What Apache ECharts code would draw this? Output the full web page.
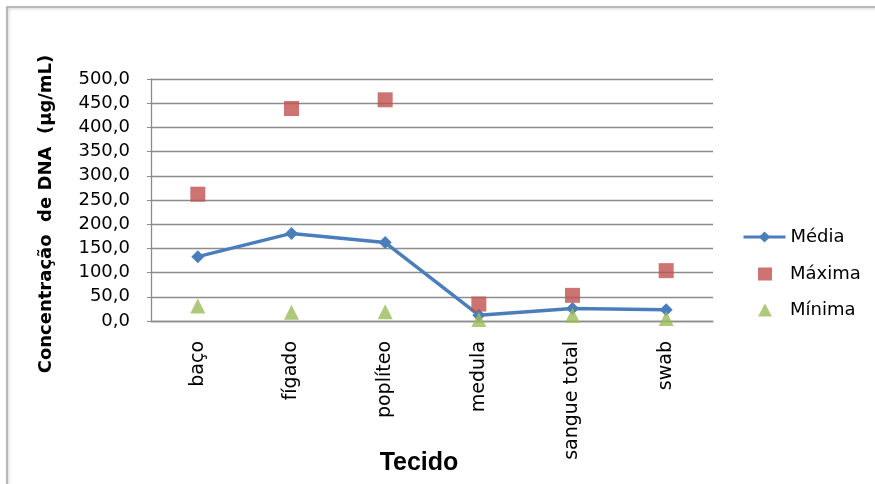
<!DOCTYPE html>
<html>
<head>
<meta charset="utf-8">
<title>Concentração de DNA por tecido</title>
<script src="https://cdn.jsdelivr.net/npm/echarts@6/dist/echarts.min.js"></script>
<style>
  html, body { margin: 0; padding: 0; background: #ffffff; }
  #chart { width: 875px; height: 484px; }
</style>
</head>
<body>
<div id="chart"></div>
<script>
// Tissue categories and DNA concentration (µg/mL)
const tecidos = ['baço', 'fígado', 'poplíteo', 'medula', 'sangue total', 'swab'];
const media   = [133, 181, 162, 12, 26, 23];
const maxima  = [262, 439, 457, 35, 53, 104];
const minima  = [31, 18, 19, 3, 12, 5];
const yTickLabels = ['0,0', '50,0', '100,0', '150,0', '200,0', '250,0',
                     '300,0', '350,0', '400,0', '450,0', '500,0'];

const chart = echarts.init(document.getElementById('chart'));
const gridColor = '#8c8c8c';
const textFont = 'DejaVu Sans';
const legendText = { fontFamily: textFont, fontSize: 18, color: '#000000', lineHeight: 14 };

chart.setOption({
  animation: false,
  backgroundColor: '#ffffff',
  graphic: [
    // outer chart-area frame
    {
      type: 'rect', z: -10,
      shape: { x: 7, y: 7, width: 900, height: 500 },
      style: { fill: 'none', stroke: '#a8a8a8', lineWidth: 1.5,
               shadowBlur: 3, shadowColor: 'rgba(0,0,0,0.25)', shadowOffsetX: 1, shadowOffsetY: 1 }
    },
    // y-axis title
    {
      type: 'text', x: 46, y: 214, rotation: Math.PI / 2,
      style: { text: 'Concentração  de DNA  (µg/mL)', align: 'center', verticalAlign: 'middle',
               font: 'bold 18px "DejaVu Sans"', fill: '#000000' }
    },
    // x-axis title
    {
      type: 'text', x: 419, y: 463,
      style: { text: 'Tecido', align: 'center', verticalAlign: 'middle',
               font: 'bold 25px "Liberation Sans"', fill: '#000000' }
    }
  ],
  grid: { left: 151, right: 162, top: 79, bottom: 163, containLabel: false },
  legend: [
    {
      orient: 'vertical',
      left: 737, top: 223,
      itemWidth: 42, itemHeight: 14,
      lineStyle: { width: 3 },
      textStyle: legendText,
      data: ['Média']
    },
    {
      orient: 'vertical',
      left: 753, top: 260,
      itemWidth: 14, itemHeight: 13, itemGap: 18,
      textStyle: Object.assign({ padding: [0, 0, 0, 13] }, legendText),
      data: ['Máxima', 'Mínima']
    }
  ],
  xAxis: {
    type: 'category',
    data: tecidos,
    boundaryGap: true,
    axisLine: { lineStyle: { color: gridColor, width: 1.3 } },
    axisTick: { show: false },
    axisLabel: { rotate: 90, margin: 20, fontFamily: textFont, fontSize: 19, color: '#000000' },
    splitLine: { show: false }
  },
  yAxis: {
    type: 'value',
    min: 0, max: 500, interval: 50,
    axisLine: { show: true, lineStyle: { color: gridColor, width: 1.3 } },
    axisTick: { show: true, length: 4, lineStyle: { color: gridColor } },
    axisLabel: {
      margin: 21, fontFamily: textFont, fontSize: 18, color: '#000000',
      formatter: function (v) { return yTickLabels[Math.round(v / 50)]; }
    },
    splitLine: { lineStyle: { color: gridColor, width: 1.3 } }
  },
  series: [
    {
      name: 'Média', type: 'line', data: media,
      symbol: 'diamond', symbolSize: 13,
      itemStyle: { color: '#4a7ebb' },
      lineStyle: { color: '#4a7ebb', width: 3.5 },
      z: 3
    },
    {
      name: 'Máxima', type: 'scatter', data: maxima,
      symbol: 'rect', symbolSize: 15,
      itemStyle: { color: '#c0504d' },
      z: 4
    },
    {
      name: 'Mínima', type: 'scatter', data: minima,
      symbol: 'triangle', symbolSize: 15,
      itemStyle: { color: '#9bbb59' },
      z: 4
    }
  ]
});
</script>
</body>
</html>
